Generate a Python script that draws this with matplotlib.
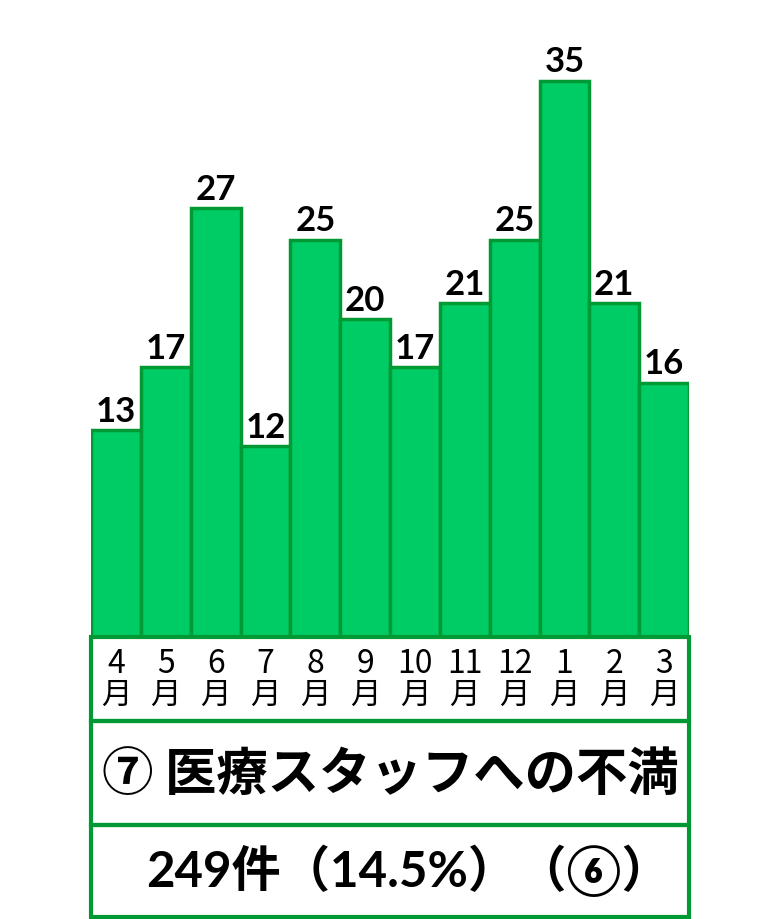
import matplotlib
matplotlib.use("Agg")
import matplotlib.pyplot as plt
from matplotlib.patches import Rectangle

plt.rcParams['font.family'] = ['Noto Sans CJK JP', 'DejaVu Sans']
num_font = ['Lato', 'Noto Sans CJK JP', 'DejaVu Sans']

months = ['4', '5', '6', '7', '8', '9', '10', '11', '12', '1', '2', '3']
counts = [13, 17, 27, 12, 25, 20, 17, 21, 25, 35, 21, 16]
title = '⑦ 医療スタッフへの不満'
total_text = '249件（14.5%）（⑥）'

bar_color = '#00cc66'
edge_color = '#009933'

W, H = 780, 920
fig = plt.figure(figsize=(W / 100, H / 100), dpi=100)

# bar area: x 91..689 px, baseline at y=638 px
left, right = 91, 689
base = 638
ax = fig.add_axes([left / W, (H - base) / H, (right - left) / W, base / H])
x = list(range(len(counts)))
ax.bar(x, counts, width=1.0, color=bar_color, edgecolor=edge_color, linewidth=2.5)
for i, v in zip(x, counts):
    ax.text(i, v + 0.2, str(v), ha='center', va='bottom', fontsize=25,
            fontweight='bold', family=num_font, color='black')
ax.set_xlim(-0.5, len(counts) - 0.5)
ax.set_ylim(0, base / 15.9)
ax.axis('off')

# table below bars
bottom = 918
tab = fig.add_axes([left / W, (H - bottom) / H, (right - left) / W, (bottom - base) / H])
tab.set_xlim(-0.5, len(counts) - 0.5)
tab.set_ylim(bottom, base)
tab.axis('off')
rows = [(base, 722), (722, 826), (826, bottom)]
for y0, y1 in rows:
    tab.add_patch(Rectangle((-0.5, y0), len(counts), y1 - y0, fill=False,
                            edgecolor=edge_color, linewidth=3, clip_on=False))
for i, m in enumerate(months):
    tab.text(i, 664, m, ha='center', va='center', fontsize=23)
    tab.text(i, 695, '月', ha='center', va='center', fontsize=22)
tab.text(5.5, 775, title, ha='center', va='center', fontsize=37, fontweight='bold')
# full-width closing paren leaves blank space on the right, so nudge right
tab.text(5.88, 871, total_text, ha='center', va='center', fontsize=35.5,
         fontweight='bold', family=num_font)

fig.savefig('out.png', dpi=100)
